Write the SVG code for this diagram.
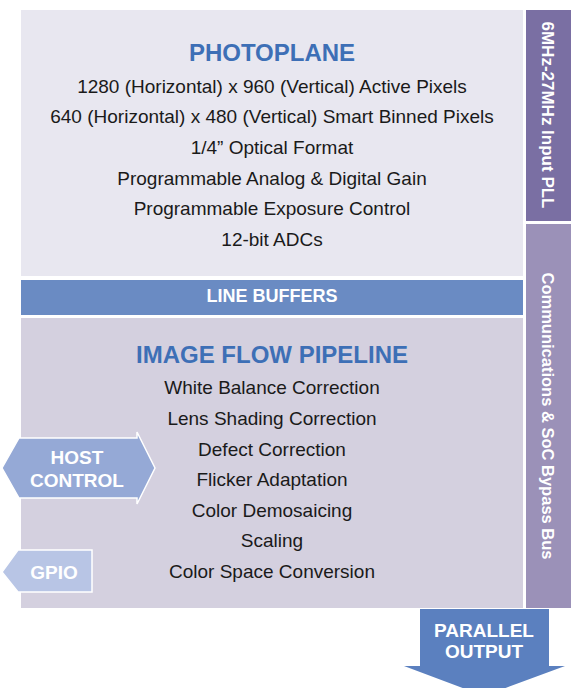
<svg xmlns="http://www.w3.org/2000/svg" width="574" height="688" viewBox="0 0 574 688">
<style>
.t{font-family:"Liberation Sans",Arial,sans-serif;font-size:19px;fill:#1a1a1a;text-anchor:middle}
.h{font-family:"Liberation Sans",Arial,sans-serif;font-size:24px;font-weight:bold;fill:#3d6fb6;text-anchor:middle}
.w{font-family:"Liberation Sans",Arial,sans-serif;font-weight:bold;fill:#fff;text-anchor:middle}
</style>
<rect width="574" height="688" fill="#fff"/>
<g id="photoplane">
<rect x="21" y="10" width="502" height="266" fill="#e8e7f0"/>
<text class="h" x="272" y="61">PHOTOPLANE</text>
<text class="t" x="272" y="93">1280 (Horizontal) x 960 (Vertical) Active Pixels</text>
<text class="t" x="272" y="123">640 (Horizontal) x 480 (Vertical) Smart Binned Pixels</text>
<text class="t" x="272" y="154">1/4” Optical Format</text>
<text class="t" x="272" y="185">Programmable Analog &amp; Digital Gain</text>
<text class="t" x="272" y="215">Programmable Exposure Control</text>
<text class="t" x="272" y="246">12-bit ADCs</text>
</g>
<g id="line-buffers">
<rect x="21" y="280" width="502" height="35" fill="#6a8bc3"/>
<text class="w" x="272" y="302" font-size="18">LINE BUFFERS</text>
</g>
<g id="image-flow-pipeline">
<rect x="21" y="318" width="502" height="290" fill="#d4d0df"/>
<text class="h" x="272" y="363">IMAGE FLOW PIPELINE</text>
<text class="t" x="272" y="394">White Balance Correction</text>
<text class="t" x="272" y="425">Lens Shading Correction</text>
<text class="t" x="272" y="456">Defect Correction</text>
<text class="t" x="272" y="486">Flicker Adaptation</text>
<text class="t" x="272" y="517">Color Demosaicing</text>
<text class="t" x="272" y="547">Scaling</text>
<text class="t" x="272" y="578">Color Space Conversion</text>
</g>
<g id="pll">
<rect x="526" y="10" width="45" height="211" fill="#7a6fa3"/>
<text class="w" font-size="17" transform="translate(542,115) rotate(90)">6MHz-27MHz Input PLL</text>
</g>
<g id="comm-bus">
<rect x="526" y="224" width="45" height="384" fill="#9b91b8"/>
<text class="w" font-size="16.5" fill="#f4f3f8" transform="translate(542,416) rotate(90)">Communications &amp; SoC Bypass Bus</text>
</g>
<g id="connectors">
<g id="host-control">
<polygon points="2,468 19,438 137,438 137,432 155,468 137,504 137,498 19,498" fill="#95a9d6" stroke="#fff" stroke-width="1.5"/>
<text class="w" x="77" y="464" font-size="19">HOST</text>
<text class="w" x="77" y="487" font-size="19">CONTROL</text>
</g>
<g id="gpio">
<polygon points="2,572 18,550 92,550 92,592 18,592" fill="#b8c5e5" stroke="#fff" stroke-width="1.5"/>
<text class="w" x="54" y="579" font-size="19">GPIO</text>
</g>
<g id="parallel-output">
<polygon points="420,609 549,609 549,666 565,666 484,696 404,666 420,666" fill="#5b80bf"/>
<text class="w" x="484" y="637" font-size="19">PARALLEL</text>
<text class="w" x="484" y="658" font-size="19">OUTPUT</text>
</g>
</g>
</svg>
